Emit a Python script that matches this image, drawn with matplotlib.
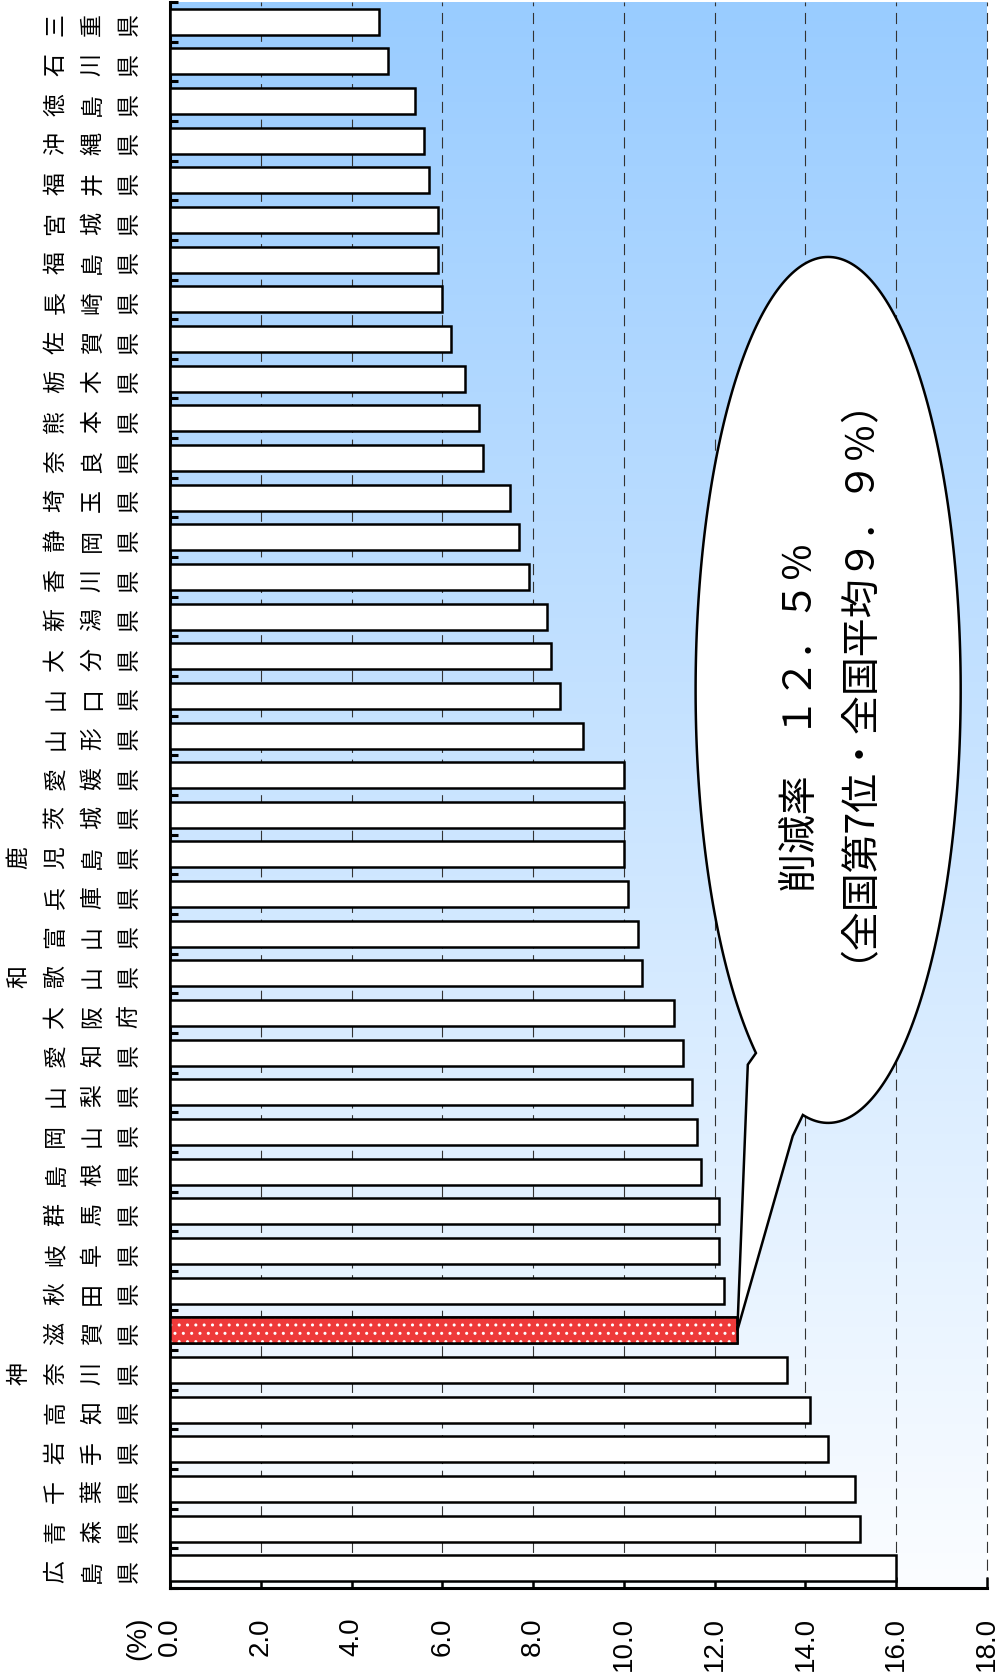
import matplotlib.pyplot as plt
import matplotlib.transforms as mtransforms
import numpy as np
from matplotlib.patches import PathPatch
from matplotlib.path import Path

plt.rcParams["font.family"] = ["Noto Sans CJK JP", "DejaVu Sans"]
plt.rcParams["hatch.linewidth"] = 1.0

# Данные:削減率 (%) по префектурам, сверху вниз
PREFECTURES = [
    "三重県", "石川県", "徳島県", "沖縄県", "福井県", "宮城県", "福島県", "長崎県",
    "佐賀県", "栃木県", "熊本県", "奈良県", "埼玉県", "静岡県", "香川県", "新潟県",
    "大分県", "山口県", "山形県", "愛媛県", "茨城県", "鹿児島県", "兵庫県", "富山県",
    "和歌山県", "大阪府", "愛知県", "山梨県", "岡山県", "島根県", "群馬県", "岐阜県",
    "秋田県", "滋賀県", "神奈川県", "高知県", "岩手県", "千葉県", "青森県", "広島県",
]
RATES = [
    4.6, 4.8, 5.4, 5.6, 5.7, 5.9, 5.9, 6.0,
    6.2, 6.5, 6.8, 6.9, 7.5, 7.7, 7.9, 8.3,
    8.4, 8.6, 9.1, 10.0, 10.0, 10.0, 10.1, 10.3,
    10.4, 11.1, 11.3, 11.5, 11.6, 11.7, 12.1, 12.1,
    12.2, 12.5, 13.6, 14.1, 14.5, 15.1, 15.2, 16.0,
]
HIGHLIGHT = "滋賀県"
X_TICKS = [0.0, 2.0, 4.0, 6.0, 8.0, 10.0, 12.0, 14.0, 16.0, 18.0]
UNIT_LABEL = "(%)"
NOTE_LINE1 = "削減率　１２．５％"
NOTE_LINE2 = "（全国第7位・全国平均９．９％）"

W, H = 1003, 1677
BAR_HEIGHT = 0.655
EDGE_LW = 1.8

fig = plt.figure(figsize=(W / 100, H / 100), dpi=100)
ax = fig.add_axes([170 / W, 89 / H, 817 / W, 1586 / H])

n = len(PREFECTURES)
y = np.arange(n)

# Фон: вертикальный градиент голубой -> почти белый
top_c = np.array([153, 204, 255]) / 255
bot_c = np.array([251, 253, 255]) / 255
g = np.linspace(0, 1, 256)[:, None, None]
grad = top_c * (1 - g) + bot_c * g
ax.imshow(grad, extent=(0, 18, n - 0.5, -0.5), aspect="auto",
          interpolation="bilinear", zorder=0)

ax.barh(y, RATES, height=BAR_HEIGHT, color="white", edgecolor="black",
        linewidth=EDGE_LW, zorder=3)

hi = PREFECTURES.index(HIGHLIGHT)
ax.barh(hi, RATES[hi], height=BAR_HEIGHT, color="#EE3A3A", edgecolor="white",
        hatch="..", linewidth=0, zorder=3.5)
ax.barh(hi, RATES[hi], height=BAR_HEIGHT, fill=False, edgecolor="black",
        linewidth=EDGE_LW, zorder=4)

ax.set_xlim(0, 18)
ax.set_ylim(n - 0.5, -0.5)

ax.set_axisbelow(True)
ax.grid(axis="x", color="#333333", linestyle=(0, (10, 6)), linewidth=0.8)
ax.grid(axis="y", visible=False)
for gl in ax.get_xgridlines():
    gl.set_clip_on(False)

ax.set_xticks(X_TICKS)
ax.set_xticklabels([f"{t:.1f}" for t in X_TICKS], rotation=90, fontsize=20,
                   family="Liberation Sans")
ax.tick_params(axis="x", direction="in", length=8, width=1.8, pad=21)
ax.set_yticks(np.arange(n + 1) - 0.5)
ax.set_yticklabels([])
ax.tick_params(axis="y", direction="in", length=6, width=2.2)

for side in ("top", "right"):
    ax.spines[side].set_visible(False)
for side in ("left", "bottom"):
    ax.spines[side].set_linewidth(2.2)

# Подписи категорий: столбцы символов, выровнены по правому краю
trans = mtransforms.blended_transform_factory(fig.transFigure, ax.transData)
for i, name in enumerate(PREFECTURES):
    for k, ch in enumerate(reversed(name)):
        ax.text((129 - 36.6 * k) / W, i + 0.08, ch, transform=trans,
                rotation=90, ha="center", va="center", fontsize=16.5,
                clip_on=False)

fig.text(138 / W, 1 - 1617 / H, UNIT_LABEL, rotation=90, ha="center",
         va="top", fontsize=20, family="Liberation Sans")

# Выноска-эллипс с хвостом к выделенному столбцу
cx, cy, a, b = 14.5, 16.85, 2.92, 10.92
t_left, t_right = np.deg2rad(123), np.deg2rad(101)
t = np.linspace(t_left, t_right + 2 * np.pi, 300)
arc = np.column_stack([cx + a * np.cos(t), cy + b * np.sin(t)])
right_base = np.array([[13.72, 28.1]])
left_base = np.array([[12.73, 26.3]])
tip = np.array([[RATES[hi], hi]])
verts = np.vstack([arc, right_base, tip, left_base, arc[:1]])
codes = [Path.MOVETO] + [Path.LINETO] * (len(verts) - 2) + [Path.CLOSEPOLY]
ax.add_patch(PathPatch(Path(verts, codes), facecolor="white",
                       edgecolor="black", linewidth=1.8, zorder=5))

# Две строки одним текстом; хвостовые пробелы сдвигают первую строку
note = NOTE_LINE1 + "\u3000\u3000\u3000" + "\n" + NOTE_LINE2
ax.text(14.30, 16.06, note, rotation=90, ha="center", va="center",
        multialignment="center", linespacing=0.85, fontsize=28, zorder=6)

fig.savefig("out.png", dpi=100)
